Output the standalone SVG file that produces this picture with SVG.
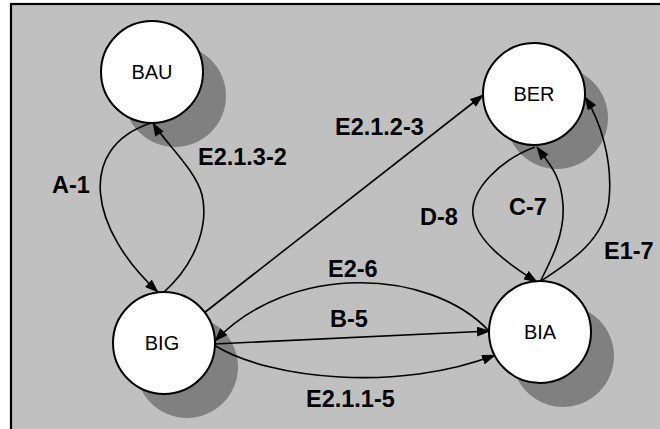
<svg xmlns="http://www.w3.org/2000/svg" width="660" height="429" viewBox="0 0 660 429">
  <style>
    .frame { fill: #c0c0c0; stroke: #000; stroke-width: 2.2; }
    .shadow { fill: #808080; }
    .state { fill: #fff; stroke: #000; stroke-width: 2; }
    .name { font-family: "Liberation Sans", Arial, sans-serif; font-size: 20px; text-anchor: middle; fill: #000; }
    .edge { fill: none; stroke: #000; stroke-width: 1.6; marker-end: url(#arrow); }
    .label { font-family: "Liberation Sans", Arial, sans-serif; font-size: 23.5px; font-weight: bold; fill: #000; }
  </style>
  <defs>
    <marker id="arrow" viewBox="0 0 14 10" refX="13" refY="5" markerWidth="14" markerHeight="10" markerUnits="userSpaceOnUse" orient="auto">
      <path d="M0,0 L14,5 L0,10 Z" fill="#000"/>
    </marker>
  </defs>

  <!-- canvas -->
  <rect class="frame" x="11" y="4" width="660" height="440"/>

  <!-- drop shadows behind the states -->
  <g id="shadows">
    <circle class="shadow" cx="175" cy="96" r="51"/>
    <circle class="shadow" cx="557" cy="118" r="51"/>
    <circle class="shadow" cx="187" cy="367" r="51"/>
    <circle class="shadow" cx="563" cy="356" r="51"/>
  </g>

  <!-- transitions -->
  <g id="connectors">
    <path id="e-a1" class="edge" d="M151,123 C75,148 90,230 158,292"/>
    <path id="e-e2132" class="edge" d="M163,293 C200,260 208,220 202,195 C196,170 163,140 153,123"/>
    <path id="e-e2123" class="edge" d="M204,313 L483,95"/>
    <path id="e-d8" class="edge" d="M535,147 C500,160 470,190 473,215 C476,240 505,262 537,282"/>
    <path id="e-c7" class="edge" d="M540,282 C550,262 565,235 563,205 C561,175 550,165 537,147"/>
    <path id="e-e17" class="edge" d="M541,281 C570,262 605,240 609,200 C613,160 600,120 585,97"/>
    <path id="e-e26" class="edge" d="M489,331 C430,268 290,262 215,341"/>
    <path id="e-b5" class="edge" d="M214,344 L490,331"/>
    <path id="e-e2115" class="edge" d="M214,345 C270,380 400,392 495,355"/>
  </g>

  <!-- transition labels -->
  <g id="labels">
    <text class="label" x="52" y="193">A-1</text>
    <text class="label" x="198" y="165">E2.1.3-2</text>
    <text class="label" x="335" y="135">E2.1.2-3</text>
    <text class="label" x="420" y="225">D-8</text>
    <text class="label" x="509" y="215">C-7</text>
    <text class="label" x="604" y="259">E1-7</text>
    <text class="label" x="328" y="277">E2-6</text>
    <text class="label" x="330" y="327">B-5</text>
    <text class="label" x="306" y="407">E2.1.1-5</text>
  </g>

  <!-- states -->
  <g id="node-bau">
    <circle class="state" cx="152" cy="72" r="51"/>
    <text class="name" x="152" y="79">BAU</text>
  </g>
  <g id="node-ber">
    <circle class="state" cx="534" cy="94" r="51"/>
    <text class="name" x="534" y="101">BER</text>
  </g>
  <g id="node-big">
    <circle class="state" cx="164" cy="343" r="51"/>
    <text class="name" x="162" y="350">BIG</text>
  </g>
  <g id="node-bia">
    <circle class="state" cx="540" cy="332" r="51"/>
    <text class="name" x="540" y="339">BIA</text>
  </g>
</svg>
